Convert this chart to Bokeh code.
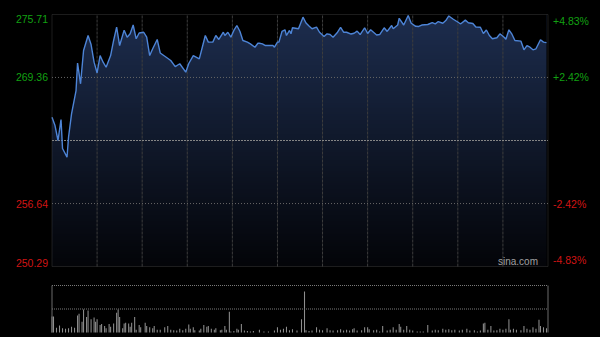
import numpy as np
from bokeh.plotting import figure
from bokeh.models import Label, Range1d, BoxAnnotation
from bokeh.layouts import column
from bokeh.embed import file_html
from bokeh.resources import INLINE

# ---------------- data ----------------
prev_close = 263.00
price_ticks = [275.71, 269.36, 256.64, 250.29]
price_tick_labels = ["275.71", "269.36", "256.64", "250.29"]
pct_ticks = [0.0483, 0.0242, -0.0242, -0.0483]
pct_tick_labels = ["+4.83%", "+2.42%", "-2.42%", "-4.83%"]
session_minutes = 330
grid_minutes = [30, 60, 90, 120, 150, 180, 210, 240, 270, 300]

minutes = [0, 2, 4, 6, 7, 10, 11, 13, 16, 17, 19, 21, 24, 26, 28, 30, 32, 34, 36, 39,
           41, 43, 45, 48, 50, 52, 54, 56, 58, 61, 63, 65, 67, 70, 72, 76, 79, 82, 85, 89,
           91, 94, 98, 100, 102, 104, 107, 109, 111, 114, 115, 117, 119, 121, 123, 125, 127, 130, 132, 135,
           137, 138, 140, 142, 147, 148, 150, 151, 153, 155, 156, 158, 159, 160, 164, 167, 169, 171, 173, 176,
           178, 181, 183, 185, 187, 190, 192, 194, 196, 199, 201, 203, 205, 208, 210, 212, 216, 218, 221, 223,
           226, 227, 230, 231, 234, 237, 239, 242, 244, 246, 250, 253, 255, 257, 260, 262, 264, 267, 271, 272,
           275, 277, 280, 282, 285, 287, 289, 291, 293, 296, 298, 301, 302, 304, 306, 308, 312, 314, 316, 318,
           320, 322, 325, 327, 329]
prices = [265.35, 264.51, 263.00, 265.12, 262.19, 261.32, 263.33, 265.69, 268.04, 270.82,
          268.72, 272.08, 273.59, 272.68, 270.90, 269.81, 271.57, 270.90, 270.39, 271.57,
          273.09, 274.43, 272.58, 274.13, 273.42, 273.76, 274.65, 273.26, 273.84, 273.92,
          273.42, 271.57, 272.25, 273.19, 271.83, 271.40, 271.07, 270.46, 270.74, 269.89,
          270.77, 271.57, 271.24, 272.41, 273.59, 272.92, 272.92, 273.59, 273.19, 273.92,
          273.59, 273.92, 273.42, 274.10, 274.60, 274.02, 273.09, 272.92, 272.75, 272.41,
          272.81, 272.81, 272.75, 272.58, 272.58, 272.41, 272.92, 272.92, 274.00, 274.17,
          273.59, 274.10, 273.76, 274.37, 274.27, 275.44, 274.85, 274.55, 274.27, 274.43,
          273.92, 273.49, 273.76, 273.69, 273.42, 273.92, 274.40, 273.92, 273.92, 273.74,
          273.82, 274.03, 273.69, 274.37, 273.79, 274.17, 273.64, 273.69, 274.37, 274.00,
          274.60, 274.27, 274.65, 275.33, 274.65, 275.61, 274.83, 274.52, 274.50, 274.65,
          274.70, 274.90, 274.77, 275.00, 274.83, 275.10, 275.56, 275.23, 274.85, 274.77,
          275.14, 274.88, 274.80, 274.45, 274.43, 273.79, 274.15, 273.59, 273.26, 273.36,
          273.76, 273.39, 273.21, 274.17, 273.72, 273.09, 273.02, 272.15, 272.58, 272.41,
          272.15, 272.25, 273.16, 272.92, 272.87]

vol_minutes = [0, 1, 3, 5, 7, 9, 11, 13, 15, 17, 18, 20, 21, 23, 24, 26, 28, 29, 30, 32,
               33, 35, 36, 38, 39, 41, 43, 44, 45, 47, 48, 49, 51, 52, 53, 55, 56, 58, 59, 62,
               63, 65, 67, 68, 70, 72, 75, 77, 79, 81, 83, 85, 87, 89, 91, 92, 94, 95, 98, 99,
               101, 103, 104, 106, 108, 109, 112, 113, 115, 116, 118, 119, 121, 123, 124, 126, 128, 130, 132, 134,
               138, 141, 144, 148, 150, 152, 154, 156, 158, 160, 163, 166, 168, 169, 171, 173, 176, 178, 180, 183,
               185, 187, 190, 192, 194, 196, 198, 200, 201, 203, 206, 208, 210, 211, 214, 216, 218, 220, 223, 225,
               227, 229, 231, 232, 234, 236, 238, 240, 243, 245, 247, 250, 253, 255, 257, 260, 262, 264, 266, 268,
               271, 273, 276, 278, 281, 283, 285, 287, 288, 290, 292, 294, 296, 298, 300, 302, 304, 305, 307, 309,
               312, 314, 316, 318, 320, 322, 324, 325, 327, 329]
volumes = [34, 34, 10, 15, 9, 8, 9, 12, 10, 36, 40, 23, 49, 33, 47, 28, 32, 23, 28, 16,
           18, 14, 9, 18, 12, 19, 42, 49, 33, 9, 19, 21, 19, 12, 21, 33, 6, 16, 11, 21,
           14, 11, 9, 14, 6, 6, 11, 14, 6, 5, 4, 8, 5, 8, 17, 8, 11, 5, 4, 8,
           16, 12, 14, 8, 6, 9, 5, 6, 14, 6, 44, 2, 3, 8, 6, 18, 4, 3, 2, 3,
           6, 2, 2, 4, 11, 6, 8, 12, 5, 7, 4, 28, 87, 5, 3, 4, 11, 6, 5, 9,
           5, 4, 5, 7, 4, 6, 4, 7, 9, 4, 5, 11, 11, 7, 5, 6, 2, 14, 4, 6,
           11, 6, 18, 12, 6, 14, 6, 4, 2, 2, 2, 16, 4, 6, 5, 8, 6, 7, 5, 6,
           4, 6, 8, 4, 5, 2, 4, 19, 21, 6, 14, 4, 5, 8, 6, 8, 28, 6, 8, 6,
           5, 14, 8, 6, 11, 8, 27, 14, 11, 9]
vol_max = 100

# ---------------- layout / styles ----------------
FONT = "Liberation Sans"
GREEN = "#12a012"
RED = "#d01414"
LINE = "#4d84d6"
W = 600
PLOT_L, PLOT_R = 51.5, 547.5          # pixel edges of the chart box
P_H, P_TOP, P_BOT = 270, 14, 266      # price panel height and box edges
V_H, V_TOP, V_BOT = 67, 15, 62        # volume panel height and box edges
y_lo, y_hi = min(price_ticks), max(price_ticks)

px_per_min = (PLOT_R - PLOT_L) / session_minutes
x_start = -PLOT_L / px_per_min
x_end = session_minutes + (W - PLOT_R) / px_per_min
p_per_px = (y_hi - y_lo) / (P_BOT - P_TOP)
v_per_px = vol_max / (V_BOT - V_TOP)

common = dict(output_backend="svg", toolbar_location=None,
              x_axis_location=None, y_axis_location=None,
              min_border_left=0, min_border_right=0, min_border_top=0, min_border_bottom=0,
              background_fill_color="black", border_fill_color="black",
              outline_line_color=None)

# ---------------- price panel ----------------
p = figure(width=W, height=P_H, x_range=Range1d(x_start, x_end),
           y_range=Range1d(y_lo - (P_H - P_BOT) * p_per_px, y_hi + P_TOP * p_per_px), **common)
p.grid.visible = False

H = 128
img = np.empty((H, 1), dtype=np.uint32)
view = img.view(dtype=np.uint8).reshape((H, 1, 4))
top_c = np.array([29, 45, 78], dtype=float)
bot_c = np.array([4, 5, 9], dtype=float)
for i in range(H):
    t = i / (H - 1)
    view[i, 0, 0:3] = (bot_c + (top_c - bot_c) * t).astype(np.uint8)
    view[i, 0, 3] = 255
p.image_rgba(image=[img], x=minutes[0], y=y_lo, dw=minutes[-1] - minutes[0], dh=y_hi - y_lo)
p.varea(x=minutes, y1=prices, y2=[y_hi + 0.5] * len(prices), fill_color="black")

# grid
p.segment(x0=grid_minutes, x1=grid_minutes, y0=[y_lo] * len(grid_minutes), y1=[y_hi] * len(grid_minutes),
          line_color="#3d3d3d", line_dash="3 1", line_width=1)
mid_ticks = price_ticks[1:3]
p.segment(x0=[0] * 2, x1=[session_minutes] * 2, y0=mid_ticks, y1=mid_ticks,
          line_color="#666666", line_dash="1 2", line_width=1)
p.segment(x0=[0], x1=[session_minutes], y0=[prev_close], y1=[prev_close],
          line_color="#858585", line_dash="2 1", line_width=1)

p.line(minutes, prices, line_color=LINE, line_width=1.4)

p.add_layout(BoxAnnotation(left=0, right=session_minutes, bottom=y_lo, top=y_hi,
                           fill_color=None, line_color="#5e5e5e", line_width=1))

for val, t in zip(price_ticks, price_tick_labels):
    base = "top" if val == y_hi else ("bottom" if val == y_lo else "middle")
    p.add_layout(Label(x=0, y=val, x_offset=-4, text=t, text_align="right",
                       text_baseline=base, text_font=FONT, text_font_size="10.5px",
                       text_color=GREEN if val > prev_close else RED))
for pc, t in zip(pct_ticks, pct_tick_labels):
    val = prev_close * (1 + pc)
    base = "top" if pc == max(pct_ticks) else ("bottom" if pc == min(pct_ticks) else "middle")
    p.add_layout(Label(x=session_minutes, y=val, x_offset=5, text=t, text_align="left",
                       text_baseline=base, text_font=FONT, text_font_size="10.5px",
                       text_color=GREEN if pc > 0 else RED))
p.add_layout(Label(x=session_minutes, y=y_lo, x_offset=-10, y_offset=0, text="sina.com",
                   text_align="right", text_baseline="bottom", text_font=FONT,
                   text_font_size="10px", text_color="#a0a0a0"))

# ---------------- volume panel ----------------
v = figure(width=W, height=V_H, x_range=p.x_range,
           y_range=Range1d(-(V_H - V_BOT) * v_per_px, vol_max + V_TOP * v_per_px), **common)
v.grid.visible = False
v.vbar(x=vol_minutes, top=volumes, width=0.7, fill_color="#8e8e8e", line_color=None)
v.segment(x0=[0, 0], x1=[session_minutes] * 2, y0=[vol_max, vol_max / 2], y1=[vol_max, vol_max / 2],
          line_color="#7a7a7a", line_dash="1 1", line_width=1)
v.segment(x0=[0, session_minutes], x1=[0, session_minutes], y0=[0, 0], y1=[vol_max, vol_max],
          line_color="#6a6a6a", line_width=1)

layout = column(p, v, spacing=0, styles={"background-color": "black"})
open("out.html", "w").write(file_html(layout, INLINE))
